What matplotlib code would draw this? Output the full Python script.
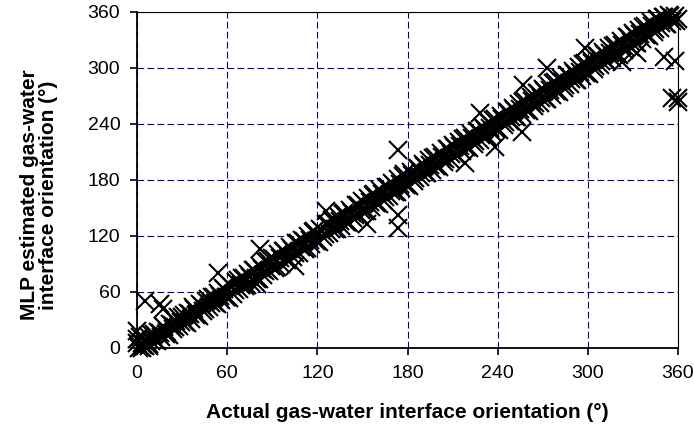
import matplotlib
matplotlib.use("Agg")
import matplotlib.pyplot as plt

# Actual orientation (deg) and MLP estimate (deg) - main band, even angles
actual = [0, 2, 4, 6, 8, 10, 12, 14, 16, 18, 20, 22, 24, 26, 28, 30, 32, 34, 36, 38,
          40, 42, 44, 46, 48, 50, 52, 54, 56, 58, 60, 62, 64, 66, 68, 70, 72, 74, 76, 78,
          80, 82, 84, 86, 88, 90, 92, 94, 96, 98, 100, 102, 104, 106, 108, 110, 112, 114, 116, 118,
          120, 122, 124, 126, 128, 130, 132, 134, 136, 138, 140, 142, 144, 146, 148, 150, 152, 154, 156, 158,
          160, 162, 164, 166, 168, 170, 172, 174, 176, 178, 180, 182, 184, 186, 188, 190, 192, 194, 196, 198,
          200, 202, 204, 206, 208, 210, 212, 214, 216, 218, 220, 222, 224, 226, 228, 230, 232, 234, 236, 238,
          240, 242, 244, 246, 248, 250, 252, 254, 256, 258, 260, 262, 264, 266, 268, 270, 272, 274, 276, 278,
          280, 282, 284, 286, 288, 290, 292, 294, 296, 298, 300, 302, 304, 306, 308, 310, 312, 314, 316, 318,
          320, 322, 324, 326, 328, 330, 332, 334, 336, 338, 340, 342, 344, 346, 348, 350, 352, 354, 356, 358, 360]
estimated = [5, 12, 3, 8, 4, 14, 9, 17, 12, 22, 17, 26, 20, 29, 24, 33, 28, 38, 31, 42,
             36, 47, 40, 50, 44, 55, 48, 59, 51, 63, 55, 67, 58, 71, 63, 75, 66, 79, 70, 84,
             74, 88, 78, 92, 82, 96, 86, 101, 90, 104, 94, 108, 98, 113, 102, 116, 106, 120, 111, 125,
             115, 128, 119, 133, 123, 137, 127, 141, 131, 145, 135, 148, 139, 153, 143, 157, 147, 161, 151, 165,
             155, 169, 159, 173, 163, 177, 167, 181, 171, 186, 175, 189, 179, 193, 183, 197, 187, 201, 191, 205,
             195, 209, 199, 213, 203, 217, 207, 221, 211, 225, 215, 229, 219, 233, 223, 237, 227, 241, 231, 245,
             235, 249, 239, 253, 243, 257, 247, 261, 251, 265, 255, 269, 259, 273, 263, 277, 267, 281, 271, 285,
             275, 289, 279, 293, 283, 297, 287, 301, 291, 305, 295, 309, 299, 313, 303, 317, 307, 321, 311, 325,
             315, 329, 319, 333, 323, 337, 327, 341, 331, 345, 335, 349, 339, 352, 343, 355, 347, 357, 350, 356, 352]

# Main band, odd angles
actual_odd = [1, 3, 5, 7, 9, 11, 13, 15, 17, 19, 21, 23, 25, 27, 29, 31, 33, 35, 37, 39,
              41, 43, 45, 47, 49, 51, 53, 55, 57, 59, 61, 63, 65, 67, 69, 71, 73, 75, 77, 79,
              81, 83, 85, 87, 89, 91, 93, 95, 97, 99, 101, 103, 105, 107, 109, 111, 113, 115, 117, 119,
              121, 123, 125, 127, 129, 131, 133, 135, 137, 139, 141, 143, 145, 147, 149, 151, 153, 155, 157, 159,
              161, 163, 165, 167, 169, 171, 173, 175, 177, 179, 181, 183, 185, 187, 189, 191, 193, 195, 197, 199,
              201, 203, 205, 207, 209, 211, 213, 215, 217, 219, 221, 223, 225, 227, 229, 231, 233, 235, 237, 239,
              241, 243, 245, 247, 249, 251, 253, 255, 257, 259, 261, 263, 265, 267, 269, 271, 273, 275, 277, 279,
              281, 283, 285, 287, 289, 291, 293, 295, 297, 299, 301, 303, 305, 307, 309, 311, 313, 315, 317, 319,
              321, 323, 325, 327, 329, 331, 333, 335, 337, 339, 341, 343, 345, 347, 349, 351, 353, 355, 357, 359]
estimated_odd = [0, 5, 2, 13, 8, 15, 7, 16, 24, 15, 14, 25, 22, 33, 28, 35, 27, 36, 44, 35,
                 34, 45, 42, 53, 48, 55, 47, 56, 64, 55, 54, 65, 62, 73, 68, 75, 67, 76, 84, 75,
                 74, 85, 82, 93, 88, 95, 87, 96, 104, 95, 94, 105, 102, 113, 108, 115, 107, 116, 124, 115,
                 114, 125, 122, 133, 128, 135, 127, 136, 144, 135, 134, 145, 142, 153, 148, 155, 147, 156, 164, 155,
                 154, 165, 162, 173, 168, 175, 167, 176, 184, 175, 174, 185, 182, 193, 188, 195, 187, 196, 204, 195,
                 194, 205, 202, 213, 208, 215, 207, 216, 224, 215, 214, 225, 222, 233, 228, 235, 227, 236, 244, 235,
                 234, 245, 242, 253, 248, 255, 247, 256, 264, 255, 254, 265, 262, 273, 268, 275, 267, 276, 284, 275,
                 274, 285, 282, 293, 288, 295, 287, 296, 304, 295, 294, 305, 302, 313, 308, 315, 307, 316, 324, 315,
                 314, 325, 322, 333, 328, 335, 327, 336, 344, 335, 334, 345, 342, 353, 348, 355, 347, 356, 354, 350]

# Off-diagonal estimates
outlier_actual = [5, 15, 17, 0, 0, 3, 8, 54, 82, 80, 105, 126, 153, 174, 174, 174,
                  218, 228, 238, 256, 257, 273, 298, 323, 333, 351, 356, 358, 360, 360]
outlier_estimated = [50, 47, 42, 18, 10, 0, 2, 80, 106, 69, 88, 147, 133, 212, 142, 129,
                     198, 252, 215, 231, 282, 300, 321, 306, 316, 312, 268, 308, 268, 264]

ticks = [0, 60, 120, 180, 240, 300, 360]

plt.rcParams['font.family'] = ['Liberation Sans', 'DejaVu Sans']

fig = plt.figure(figsize=(6.94, 4.32), dpi=100)
ax = fig.add_axes([137/694, 1-348/432, (678-137)/694, (348-12)/432])

mk = dict(linestyle='none', marker='x', color='black', markersize=13,
          markeredgewidth=1.5, clip_on=False, zorder=3)
ax.plot(actual, estimated, **mk)
ax.plot(actual_odd, estimated_odd, **mk)
ax.plot(outlier_actual, outlier_estimated, **mk)

ax.set_xlim(0, 360)
ax.set_ylim(0, 360)
ax.set_xticks(ticks)
ax.set_yticks(ticks)
ax.grid(True, color='#000080', linestyle=(0, (6, 3)), linewidth=0.8, zorder=0)
ax.set_axisbelow(True)

for s in ['left', 'bottom']:
    ax.spines[s].set_linewidth(1.3)
    ax.spines[s].set_color('black')
for s in ['top', 'right']:
    ax.spines[s].set_linewidth(0.8)
    ax.spines[s].set_color('black')

ax.tick_params(axis='both', direction='out', length=5, width=1.2, labelsize=14, pad=7)

ax.set_xlabel('Actual gas-water interface orientation (°)', fontsize=15,
              fontweight='bold', labelpad=15)
ax.set_ylabel('MLP estimated gas-water\ninterface orientation (°)', fontsize=15,
              fontweight='bold', labelpad=21, linespacing=1.05)
ax.yaxis.label.set_y(0.455)

fig.savefig('out.png', dpi=100)
